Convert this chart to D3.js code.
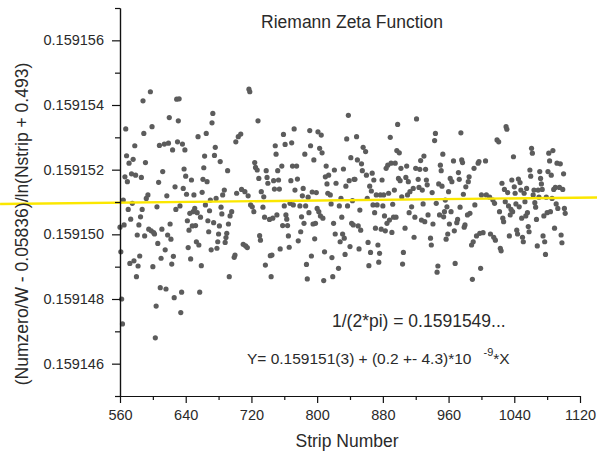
<!DOCTYPE html>
<html><head><meta charset="utf-8">
<script src="https://cdn.jsdelivr.net/npm/d3@7"></script>
<style>body{margin:0;background:#fff} svg{display:block} text{font-family:Arial,"Liberation Sans",sans-serif}</style>
</head><body><svg id="c" width="597" height="454"></svg>
<script>
const strips = [
560,561,562,563,564,565,566,567,568,569,570,571,572,573,574,575,576,577,578,579,
580,581,582,583,584,585,586,587,588,589,590,591,592,594,595,597,598,599,600,601,
602,603,604,605,606,607,608,609,610,611,612,614,615,616,617,618,619,620,621,622,
623,624,625,626,627,628,629,630,631,632,633,634,635,636,637,638,639,640,641,642,
643,644,645,646,647,648,649,650,651,652,653,654,655,656,657,658,659,660,661,662,
663,664,665,666,667,668,669,670,671,672,673,674,675,676,677,678,679,680,681,682,
683,684,685,687,688,689,690,691,692,693,694,696,699,700,701,702,704,707,708,710,
712,713,715,716,717,718,719,721,723,724,725,727,728,729,730,731,732,734,735,736,
737,738,739,740,742,743,744,745,746,747,748,749,750,751,752,753,754,755,757,758,
759,760,761,762,763,764,765,766,767,768,769,770,771,772,773,775,776,777,779,780,
781,782,783,784,785,786,787,788,789,790,791,792,793,794,795,796,797,798,799,800,
801,802,803,804,805,806,807,808,809,810,811,812,813,814,816,817,818,819,820,821,
822,823,826,827,828,829,830,831,832,833,834,835,836,837,838,839,840,841,842,843,
844,845,846,848,849,850,851,852,853,854,855,856,859,860,861,862,863,864,865,866,
867,868,869,870,871,872,873,874,875,876,877,878,879,880,881,882,883,884,885,886,
887,888,889,890,891,892,893,894,895,896,897,898,899,900,901,902,903,904,905,907,
908,909,910,911,912,913,915,917,918,919,920,921,923,924,925,926,927,928,929,930,
931,932,933,934,935,938,939,940,941,943,944,945,946,947,948,949,950,951,952,953,
954,955,956,957,958,959,960,961,962,963,964,966,967,968,970,971,972,973,974,975,
976,977,978,979,980,981,983,984,985,986,988,989,990,991,992,994,996,997,998,999,
1000,1002,1005,1006,1010,1011,1014,1015,1016,1017,1019,1021,1022,1023,1024,1025,1026,1027,1028,1029,
1030,1031,1032,1033,1034,1035,1036,1037,1038,1039,1040,1041,1042,1043,1044,1045,1046,1047,1048,1049,
1050,1051,1052,1053,1054,1055,1056,1057,1058,1059,1060,1061,1062,1063,1064,1065,1066,1067,1068,1069,
1070,1071,1072,1073,1074,1075,1076,1077,1078,1079,1080,1081,1082,1083,1084,1085,1086,1087,1088,1089,
1090,1091,1092,1093,1095,1096,1097,1098,1099,1100,1101,1102
];
const values = [
0.15915022,0.15914946,0.15914800,0.15914723,0.15915106,0.15915029,0.15915178,0.15915326,0.15915243,0.15915163,0.15915077,0.15915220,0.15914910,0.15915047,0.15915187,0.15915096,0.15915232,0.15914918,0.15915274,0.15915183,
0.15914869,0.15914998,0.15914902,0.15915029,0.15914933,0.15915054,0.15915176,0.15915077,0.15915413,0.15915312,0.15914995,0.15915222,0.15915111,0.15915122,0.15915016,0.15915441,0.15915011,0.15915333,0.15914900,0.15915005,
0.15915001,0.15914680,0.15914778,0.15915085,0.15914972,0.15915161,0.15915275,0.15914835,0.15914926,0.15915016,0.15915194,0.15915279,0.15914952,0.15914831,0.15915119,0.15914998,0.15915282,0.15915361,0.15915032,0.15914985,
0.15914908,0.15915261,0.15914932,0.15914804,0.15915147,0.15915077,0.15915418,0.15915286,0.15915351,0.15915419,0.15915088,0.15914758,0.15914821,0.15915279,0.15915142,0.15915202,0.15915261,0.15915180,0.15915124,0.15915042,
0.15914959,0.15915013,0.15915065,0.15914924,0.15915168,0.15915026,0.15915070,0.15915122,0.15915080,0.15915027,0.15914977,0.15915067,0.15915302,0.15914967,0.15914821,0.15915053,0.15914903,0.15915130,0.15915170,0.15915206,
0.15915242,0.15915091,0.15915312,0.15915163,0.15915042,0.15915008,0.15915073,0.15915106,0.15914952,0.15915345,0.15915374,0.15915036,0.15915244,0.15915269,0.15915111,0.15914957,0.15914977,0.15915001,0.15915026,0.15915225,
0.15915084,0.15915063,0.15915122,0.15915137,0.15914975,0.15914990,0.15915003,0.15915197,0.15915032,0.15914869,0.15915057,0.15915070,0.15914929,0.15914936,0.15915286,0.15915127,0.15915302,0.15915310,0.15915139,0.15914969,
0.15915132,0.15914964,0.15914959,0.15915119,0.15915449,0.15915441,0.15915091,0.15915085,0.15915070,0.15915222,0.15915207,0.15915199,0.15915351,0.15915173,0.15914996,0.15914982,0.15915132,0.15915084,0.15915116,0.15915053,
0.15914905,0.15915197,0.15915176,0.15915158,0.15915046,0.15914934,0.15914869,0.15914936,0.15915050,0.15915166,0.15915140,0.15915274,0.15915248,0.15915060,0.15915197,0.15915168,0.15915140,0.15914955,0.15915211,0.15915027,
0.15915309,0.15915088,0.15915278,0.15915060,0.15915047,0.15915027,0.15914995,0.15914960,0.15915096,0.15915166,0.15915283,0.15915211,0.15915091,0.15915326,0.15915137,0.15915211,0.15915171,0.15914980,0.15915088,0.15915008,
0.15915054,0.15915119,0.15915142,0.15915034,0.15915248,0.15915088,0.15914907,0.15914862,0.15915115,0.15915067,0.15915321,0.15915274,0.15914933,0.15915131,0.15915032,0.15915230,0.15914986,0.15915034,0.15915129,0.15915080,
0.15915317,0.15915070,0.15915266,0.15915057,0.15915307,0.15915252,0.15915050,0.15914857,0.15914946,0.15915178,0.15915211,0.15915156,0.15915127,0.15915183,0.15915122,0.15915094,0.15914928,0.15914869,0.15915034,0.15915199,
0.15915001,0.15915158,0.15914895,0.15915088,0.15914977,0.15915111,0.15915053,0.15915001,0.15915202,0.15914988,0.15914938,0.15915149,0.15915295,0.15915088,0.15915368,0.15915166,0.15914962,0.15915237,0.15915034,0.15915104,
0.15915029,0.15915170,0.15915170,0.15915302,0.15915230,0.15915026,0.15914955,0.15915075,0.15915013,0.15915218,0.15915197,0.15915269,0.15915256,0.15915183,0.15915111,0.15914975,0.15914903,0.15915149,0.15914944,0.15915134,
0.15915189,0.15915091,0.15915168,0.15915067,0.15915019,0.15915122,0.15915091,0.15914967,0.15914914,0.15914941,0.15915122,0.15915016,0.15915168,0.15915088,0.15915122,0.15915057,0.15915011,0.15915204,0.15915034,0.15915214,
0.15915127,0.15915044,0.15915300,0.15915220,0.15915006,0.15915093,0.15915053,0.15915137,0.15915220,0.15915053,0.15915259,0.15915340,0.15915173,0.15915252,0.15915166,0.15915204,0.15915116,0.15914908,0.15914944,0.15915019,
0.15915176,0.15915211,0.15915122,0.15915163,0.15915067,0.15915132,0.15915085,0.15915142,0.15914991,0.15915053,0.15915204,0.15915357,0.15915170,0.15915145,0.15915201,0.15915228,0.15915044,0.15915137,0.15915094,0.15915242,
0.15915039,0.15915201,0.15915168,0.15915153,0.15915060,0.15914988,0.15914967,0.15915129,0.15915032,0.15915290,0.15915312,0.15915096,0.15914883,0.15914902,0.15915156,0.15915060,0.15915214,0.15915197,0.15915149,0.15915248,
0.15915054,0.15915070,0.15915106,0.15914985,0.15915085,0.15915001,0.15915132,0.15915032,0.15915173,0.15915070,0.15915163,0.15915227,0.15915011,0.15914910,0.15915036,0.15915046,0.15915191,0.15915170,0.15915084,0.15915314,
0.15915230,0.15915222,0.15915124,0.15915022,0.15915029,0.15915147,0.15915060,0.15915163,0.15915178,0.15915065,0.15914967,0.15914861,0.15914977,0.15915204,0.15915091,0.15914995,0.15915220,0.15915225,0.15915003,0.15914895,
0.15915122,0.15915005,0.15915227,0.15915122,0.15915115,0.15915001,0.15915106,0.15914991,0.15915096,0.15914982,0.15915292,0.15915286,0.15915070,0.15914957,0.15914949,0.15915158,0.15915050,0.15915039,0.15915139,0.15915101,
0.15915333,0.15915325,0.15915129,0.15915088,0.15914995,0.15915060,0.15915077,0.15915168,0.15915070,0.15915240,0.15915147,0.15915127,0.15915094,0.15915013,0.15915001,0.15915171,0.15915085,0.15915160,0.15915137,0.15915050,
0.15914991,0.15914977,0.15915127,0.15915101,0.15915057,0.15915142,0.15915067,0.15915024,0.15915008,0.15915199,0.15915180,0.15915266,0.15915251,0.15915122,0.15915137,0.15915098,0.15915084,0.15915046,0.15914964,0.15915137,
0.15915115,0.15915194,0.15915173,0.15915156,0.15915139,0.15914995,0.15915057,0.15914977,0.15914938,0.15915115,0.15915067,0.15915194,0.15915251,0.15915227,0.15915070,0.15915183,0.15915111,0.15915259,0.15915139,0.15915019,
0.15915145,0.15915094,0.15915220,0.15915080,0.15915145,0.15915218,0.15914998,0.15914974,0.15915139,0.15915187,0.15915080,0.15915065
];
const xMajorTicks = [560,640,720,800,880,960,1040,1120];
const xMinorTicks = [600,680,760,840,920,1000,1080];
const yMajorTicks = [0.159146,0.159148,0.15915,0.159152,0.159154,0.159156];
const yMinorTicks = [0.159145,0.159147,0.159149,0.159151,0.159153,0.159155,0.159157];
const fitStrips = [414, 1141];
const fitValues = [0.15915094, 0.15915114];

const svg = d3.select("#c");
const x = d3.scaleLinear().domain([560,1120]).range([120,580]);
const y = d3.scaleLinear().domain([0.159145,0.159157]).range([396,8]);
const axisColor = "#111", labelColor = "#2a2a2a";

svg.append("g").selectAll("circle").data(strips.map((s,i)=>[s,values[i]])).join("circle")
  .attr("cx", d=>x(d[0])).attr("cy", d=>y(d[1])).attr("r", 2.6).attr("fill", "#5c5c5c");

svg.append("line")
  .attr("x1", x(fitStrips[0])).attr("y1", y(fitValues[0]))
  .attr("x2", x(fitStrips[1])).attr("y2", y(fitValues[1]))
  .attr("stroke", "#fbe700").attr("stroke-width", 2.4);

function styleAxis(g){
  g.selectAll("path,line").attr("stroke", axisColor).attr("stroke-width", 1.2);
  g.selectAll("text").attr("fill", labelColor).style("font-size","14.5px").style("font-family","Arial, 'Liberation Sans', sans-serif");
}
svg.append("g").attr("transform","translate(120,0)")
  .call(d3.axisLeft(y).tickValues(yMinorTicks).tickSize(5).tickFormat("").tickSizeOuter(0))
  .call(styleAxis);
svg.append("g").attr("transform","translate(120,0)")
  .call(d3.axisLeft(y).tickValues(yMajorTicks).tickSize(8).tickPadding(8).tickFormat(d3.format(".6f")).tickSizeOuter(0))
  .call(styleAxis);
svg.append("g").attr("transform","translate(0,396)")
  .call(d3.axisBottom(x).tickValues(xMinorTicks).tickSize(4).tickFormat("").tickSizeOuter(0))
  .call(styleAxis);
svg.append("g").attr("transform","translate(0,396)")
  .call(d3.axisBottom(x).tickValues(xMajorTicks).tickSize(7).tickPadding(7).tickFormat(d3.format("d")).tickSizeOuter(0))
  .call(styleAxis);

const big = "17.5px";
svg.append("text").attr("x",352).attr("y",28).attr("text-anchor","middle").style("font-size",big).attr("fill",labelColor).text("Riemann Zeta Function");
svg.append("text").attr("x",347).attr("y",447).attr("text-anchor","middle").style("font-size",big).attr("fill",labelColor).text("Strip Number");
svg.append("text").attr("transform","translate(28,224) rotate(-90)").attr("text-anchor","middle").style("font-size",big).attr("fill",labelColor)
  .text("(Numzero/W - 0.05836)/ln(Nstrip + 0.493)");
svg.append("text").attr("x",332).attr("y",327).style("font-size",big).attr("fill",labelColor).text("1/(2*pi) = 0.1591549...");
const eq = svg.append("text").attr("x",247).attr("y",364).style("font-size","15.5px").attr("fill",labelColor);
eq.append("tspan").text("Y= 0.159151(3) + (0.2 +- 4.3)*10");
eq.append("tspan").attr("dx",12).attr("dy",-8).style("font-size","11px").text("-9");
eq.append("tspan").attr("dy",8).text("*X");
</script></body></html>
